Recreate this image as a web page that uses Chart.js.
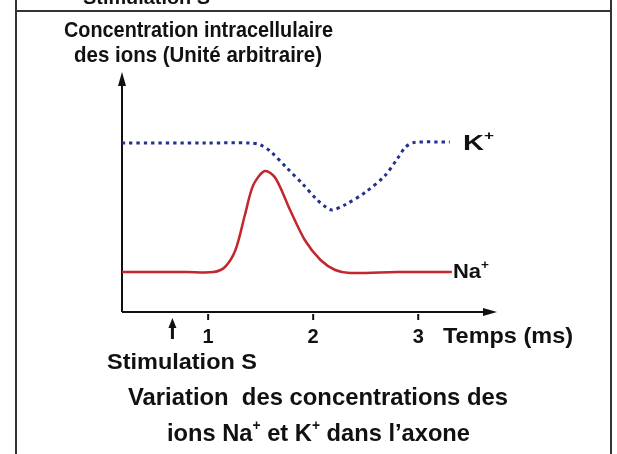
<!DOCTYPE html>
<html>
<head>
<meta charset="utf-8">
<script src="https://cdn.jsdelivr.net/npm/chart.js@4.4.0/dist/chart.umd.min.js"></script>
<style>
html, body { margin: 0; padding: 0; background: #fff; }
#wrap { position: relative; width: 617px; height: 454px; }
</style>
</head>
<body>
<div id="wrap"><canvas id="ions"></canvas></div>
<script>
var kTemps  = [0.18, 1.00, 1.40, 1.50, 1.60, 1.75, 1.90, 2.03, 2.12, 2.18, 2.30, 2.50, 2.68, 2.80, 2.88, 2.96, 3.30];
var kConc   = [16.9, 16.9, 16.9, 16.7, 16.0, 14.4, 12.8, 11.3, 10.5, 10.2, 10.7, 12.0, 13.6, 15.3, 16.5, 16.95, 17.0];
var naTemps = [0.18, 0.80, 1.05, 1.16, 1.26, 1.35, 1.43, 1.54, 1.64, 1.78, 1.92, 2.07, 2.21, 2.35, 2.80, 3.32];
var naConc  = [4.0, 4.0, 4.0, 4.5, 6.2, 9.7, 12.7, 14.1, 13.4, 10.2, 7.2, 5.2, 4.2, 3.9, 4.0, 4.0];
var tickValues = [1, 2, 3];
var tickLabels = ['1', '2', '3'];
var stimulation = 0.66;

var FONT = '"Liberation Sans", Arial, sans-serif';

function points(xs, ys) {
    return xs.map(function(v, i) { return {x: v, y: ys[i]}; });
}

// texte gras étiré pour tenir entre x1 et x2, parts = [[texte, exposant?], ...]
function fitText(ctx, parts, x1, x2, base, size) {
    var font = 'bold ' + size + 'px ' + FONT;
    var supFont = 'bold ' + Math.round(size * 0.6) + 'px ' + FONT;
    var w = 0;
    ctx.save();
    parts.forEach(function(p) {
        ctx.font = p[1] ? supFont : font;
        w += ctx.measureText(p[0]).width;
    });
    ctx.translate(x1, base);
    ctx.scale((x2 - x1) / w, 1);
    ctx.fillStyle = '#111';
    ctx.textAlign = 'left';
    ctx.textBaseline = 'alphabetic';
    var x = 0;
    parts.forEach(function(p) {
        ctx.font = p[1] ? supFont : font;
        ctx.fillText(p[0], x, p[1] ? -size * 0.45 : 0);
        x += ctx.measureText(p[0]).width;
    });
    ctx.restore();
}

function line(ctx, x1, y1, x2, y2) {
    ctx.beginPath();
    ctx.moveTo(x1, y1);
    ctx.lineTo(x2, y2);
    ctx.stroke();
}

function tri(ctx, a, b, c) {
    ctx.beginPath();
    ctx.moveTo(a[0], a[1]);
    ctx.lineTo(b[0], b[1]);
    ctx.lineTo(c[0], c[1]);
    ctx.closePath();
    ctx.fill();
}

var schema = {
    id: 'schema',
    beforeDatasetsDraw: function(chart) {
        var ctx = chart.ctx, xs = chart.scales.x, ys = chart.scales.y;
        var x0 = xs.getPixelForValue(xs.min), xEnd = xs.getPixelForValue(xs.max);
        var y0 = ys.getPixelForValue(ys.min), yEnd = ys.getPixelForValue(ys.max);
        ctx.save();
        // cadre
        ctx.strokeStyle = '#333';
        ctx.lineWidth = 2;
        line(ctx, 16, 0, 16, 454);
        line(ctx, 611, 0, 611, 454);
        line(ctx, 16, 11, 611, 11);
        // axes
        ctx.strokeStyle = '#111';
        ctx.fillStyle = '#111';
        ctx.lineWidth = 2;
        line(ctx, x0, y0, x0, yEnd + 10);
        line(ctx, x0, y0, xEnd - 10, y0);
        tri(ctx, [x0, yEnd], [x0 - 4, yEnd + 14], [x0 + 4, yEnd + 14]);
        tri(ctx, [xEnd, y0], [xEnd - 14, y0 - 4], [xEnd - 14, y0 + 4]);
        // graduations
        tickValues.forEach(function(v, i) {
            var px = xs.getPixelForValue(v);
            line(ctx, px, y0 + 2, px, y0 + 8);
            ctx.font = 'bold 20px ' + FONT;
            ctx.textAlign = 'center';
            ctx.textBaseline = 'alphabetic';
            ctx.fillText(tickLabels[i], px, y0 + 31);
        });
        // flèche de stimulation
        var sx = xs.getPixelForValue(stimulation);
        ctx.lineWidth = 3;
        line(ctx, sx, y0 + 27, sx, y0 + 14);
        tri(ctx, [sx, y0 + 6], [sx - 4, y0 + 16], [sx + 4, y0 + 16]);
        ctx.restore();
    },
    afterDraw: function(chart) {
        var ctx = chart.ctx;
        fitText(ctx, [['Stimulation S']], 83, 210, 4, 19);
        fitText(ctx, [['Concentration intracellulaire']], 64, 333, 37, 22);
        fitText(ctx, [['des ions (Unité arbitraire)']], 74, 322, 62, 22);
        fitText(ctx, [['Temps (ms)']], 443, 573, 343, 22);
        fitText(ctx, [['Stimulation S']], 107, 257, 369, 22);
        fitText(ctx, [['K'], ['+', true]], 463, 494, 150, 22);
        fitText(ctx, [['Na'], ['+', true]], 453, 489, 278, 21);
        fitText(ctx, [['Variation  des concentrations des']], 128, 508, 405, 24);
        fitText(ctx, [['ions Na'], ['+', true], [' et K'], ['+', true], [' dans l\u2019axone']], 167, 470, 441, 24);
    }
};

new Chart(document.getElementById('ions'), {
    type: 'line',
    data: {
        datasets: [{
            label: 'K+',
            data: points(kTemps, kConc),
            borderColor: '#23308f',
            borderWidth: 3,
            borderDash: [3.3, 4],
            borderCapStyle: 'butt',
            pointRadius: 0,
            tension: 0.3,
            fill: false,
            clip: false
        }, {
            label: 'Na+',
            data: points(naTemps, naConc),
            borderColor: '#c1272d',
            borderWidth: 2.5,
            pointRadius: 0,
            tension: 0.3,
            fill: false,
            clip: false
        }]
    },
    options: {
        responsive: true,
        maintainAspectRatio: false,
        animation: false,
        events: [],
        layout: { padding: { left: 122, right: 120, top: 72, bottom: 142 } },
        scales: {
            x: { type: 'linear', min: 0.18, max: 3.75, display: false },
            y: { min: 0, max: 24, display: false }
        },
        plugins: {
            legend: { display: false },
            tooltip: { enabled: false }
        }
    },
    plugins: [schema]
});
</script>
</body>
</html>
